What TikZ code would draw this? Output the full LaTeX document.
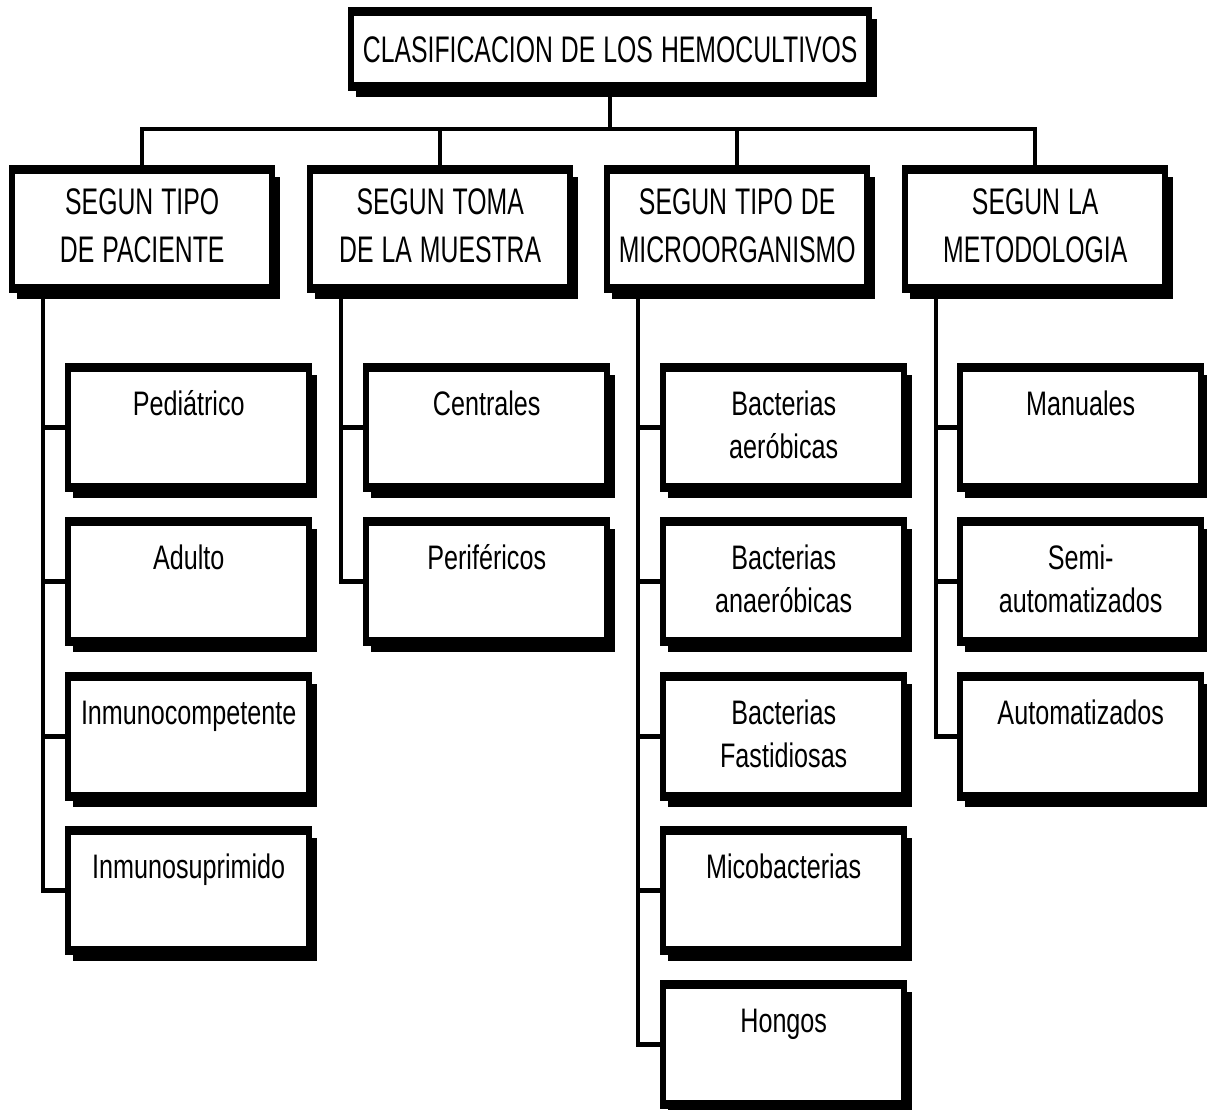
\documentclass[tikz,border=0pt]{standalone}
\usepackage{fontspec}
\setmainfont{Liberation Sans}
\newfontfamily\headfont[FakeStretch=0.67]{Liberation Sans}
\newfontfamily\itemfont[FakeStretch=0.74]{Liberation Sans}
\usetikzlibrary{calc}
\pgfdeclarelayer{frames}
\pgfsetlayers{frames,main}

\tikzset{
  box/.style={rectangle, inner sep=0pt, anchor=north west},
  rootbox/.style={box, minimum width=524pt, minimum height=84pt},
  catbox/.style={box, minimum width=266pt, minimum height=128pt},
  leafbox/.style={box, minimum width=247pt, minimum height=129pt},
  tightwords/.style={execute at begin node={\spaceskip=8pt\relax\xspaceskip=8pt\relax}},
  headtext/.style={inner sep=0pt, anchor=base, align=center, tightwords,
    font=\headfont\fontsize{37}{48}\selectfont, text width=250pt},
  roottext/.style={headtext, text width=515pt},
  itemtext/.style={inner sep=0pt, anchor=base, align=center, tightwords,
    font=\itemfont\fontsize{34}{43}\selectfont, text width=240pt},
  link/.style={line width=4.5pt, line join=miter}
}

% heavy frame with a drop shadow around a named box
\newcommand\heavyframe[1]{%
  \fill[black] ([shift={(8pt,-12pt)}]#1.north west) rectangle ([shift={(5pt,-6pt)}]#1.south east);
  \fill[black] (#1.north west) rectangle (#1.south east);
  \fill[white] ([shift={(6pt,-9pt)}]#1.north west) rectangle ([shift={(-6pt,9pt)}]#1.south east);
}

\begin{document}
\begin{tikzpicture}[x=1pt, y=-1pt]
  \useasboundingbox (0,0) rectangle (1207,1109);

  % root
  \node[rootbox] (root) at (348,7) {};
  \node[roottext] (troot) at ([yshift=-55pt]root.north) {CLASIFICACION DE LOS HEMOCULTIVOS};

  % categories
  \node[catbox] (cat1) at (9,165) {};
  \node[catbox] (cat2) at (307,165) {};
  \node[catbox] (cat3) at (604,165) {};
  \node[catbox] (cat4) at (902,165) {};
  \node[headtext] (tcat1) at ([yshift=-49pt]cat1.north) {SEGUN TIPO\\DE PACIENTE};
  \node[headtext] (tcat2) at ([yshift=-49pt]cat2.north) {SEGUN TOMA\\DE LA MUESTRA};
  \node[headtext] (tcat3) at ([yshift=-49pt]cat3.north) {SEGUN TIPO DE\\MICROORGANISMO};
  \node[headtext] (tcat4) at ([yshift=-49pt]cat4.north) {SEGUN LA\\METODOLOGIA};

  % leaves: patient type
  \node[leafbox] (ped) at (65,363) {};
  \node[leafbox] (adu) at (65,517) {};
  \node[leafbox] (icp) at (65,672) {};
  \node[leafbox] (isp) at (65,826) {};
  % sample origin
  \node[leafbox] (cen) at (363,363) {};
  \node[leafbox] (per) at (363,517) {};
  % microorganism
  \node[leafbox] (aer) at (660,363) {};
  \node[leafbox] (ana) at (660,517) {};
  \node[leafbox] (fas) at (660,672) {};
  \node[leafbox] (mic) at (660,826) {};
  \node[leafbox] (hon) at (660,980) {};
  % methodology
  \node[leafbox] (man) at (957,363) {};
  \node[leafbox] (sem) at (957,517) {};
  \node[leafbox] (aut) at (957,672) {};

  \node[itemtext] (tped) at ([yshift=-52pt]ped.north) {Pediátrico};
  \node[itemtext] (tadu) at ([yshift=-52pt]adu.north) {Adulto};
  \node[itemtext] (ticp) at ([yshift=-52pt]icp.north) {Inmunocompetente};
  \node[itemtext] (tisp) at ([yshift=-52pt]isp.north) {Inmunosuprimido};
  \node[itemtext] (tcen) at ([yshift=-52pt]cen.north) {Centrales};
  \node[itemtext] (tper) at ([yshift=-52pt]per.north) {Periféricos};
  \node[itemtext] (taer) at ([yshift=-52pt]aer.north) {Bacterias\\aeróbicas};
  \node[itemtext] (tana) at ([yshift=-52pt]ana.north) {Bacterias\\anaeróbicas};
  \node[itemtext] (tfas) at ([yshift=-52pt]fas.north) {Bacterias\\Fastidiosas};
  \node[itemtext] (tmic) at ([yshift=-52pt]mic.north) {Micobacterias};
  \node[itemtext] (thon) at ([yshift=-52pt]hon.north) {Hongos};
  \node[itemtext] (tman) at ([yshift=-52pt]man.north) {Manuales};
  \node[itemtext] (tsem) at ([yshift=-52pt]sem.north) {Semi-\\automatizados};
  \node[itemtext] (taut) at ([yshift=-52pt]aut.north) {Automatizados};

  \begin{pgfonlayer}{frames}
    \fill[white] (0,0) rectangle (1207,1109);
    \foreach \b in {root,cat1,cat2,cat3,cat4,ped,adu,icp,isp,cen,per,aer,ana,fas,mic,hon,man,sem,aut}
      {\heavyframe{\b}}
  \end{pgfonlayer}

  % bus from the root to the categories
  \coordinate (bus) at (610,129);
  \draw[link] (root.south) -- (root.south |- bus);
  \draw[link] (cat1.north) |- (cat4.north |- bus) -- (cat4.north);
  \draw[link] (cat2.north) -- (cat2.north |- bus);
  \draw[link] (cat3.north) -- (cat3.north |- bus);

  % spines from each category to its items
  \coordinate (sp1) at ([xshift=34pt]cat1.south west);
  \coordinate (sp2) at ([xshift=34pt]cat2.south west);
  \coordinate (sp3) at ([xshift=34pt]cat3.south west);
  \coordinate (sp4) at ([xshift=34pt]cat4.south west);

  \draw[link] (sp1) |- (isp.west);
  \foreach \b in {ped,adu,icp} \draw[link] (sp1 |- \b.west) -- (\b.west);
  \draw[link] (sp2) |- (per.west);
  \draw[link] (sp2 |- cen.west) -- (cen.west);
  \draw[link] (sp3) |- (hon.west);
  \foreach \b in {aer,ana,fas,mic} \draw[link] (sp3 |- \b.west) -- (\b.west);
  \draw[link] (sp4) |- (aut.west);
  \foreach \b in {man,sem} \draw[link] (sp4 |- \b.west) -- (\b.west);
\end{tikzpicture}
\end{document}
